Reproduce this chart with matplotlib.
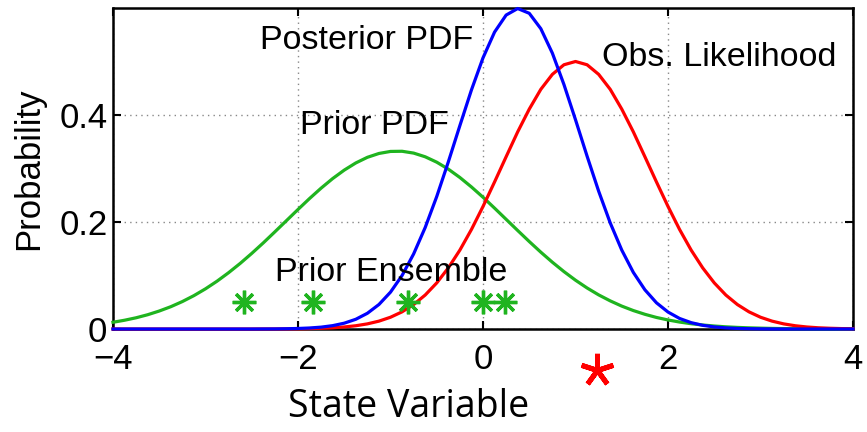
import matplotlib
matplotlib.use('Agg')
import matplotlib.pyplot as plt

x_grid = [-4, -3.875, -3.75, -3.625, -3.5, -3.375, -3.25, -3.125, -3, -2.875, -2.75,
          -2.625, -2.5, -2.375, -2.25, -2.125, -2, -1.875, -1.75, -1.625, -1.5,
          -1.375, -1.25, -1.125, -1, -0.875, -0.75, -0.625, -0.5, -0.375, -0.25,
          -0.125, 0, 0.125, 0.25, 0.375, 0.5, 0.625, 0.75, 0.875, 1, 1.125, 1.25,
          1.375, 1.5, 1.625, 1.75, 1.875, 2, 2.125, 2.25, 2.375, 2.5, 2.625, 2.75,
          2.875, 3, 3.125, 3.25, 3.375, 3.5, 3.625, 3.75, 3.875, 4]
prior_pdf = [0.0126, 0.0164, 0.0210, 0.0267, 0.0336, 0.0417, 0.0513, 0.0624, 0.0751,
             0.0894, 0.1053, 0.1226, 0.1413, 0.1610, 0.1816, 0.2025, 0.2234, 0.2439,
             0.2633, 0.2812, 0.2970, 0.3104, 0.3209, 0.3281, 0.3319, 0.3322, 0.3288,
             0.3219, 0.3118, 0.2988, 0.2832, 0.2655, 0.2463, 0.2259, 0.2050, 0.1841,
             0.1635, 0.1436, 0.1248, 0.1073, 0.0912, 0.0767, 0.0638, 0.0526, 0.0428,
             0.0345, 0.0275, 0.0216, 0.0169, 0.0130, 0.0099, 0.0075, 0.0056, 0.0041,
             0.0030, 0.0022, 0.0016, 0.0011, 0.0008, 0.0005, 0.0004, 0.0002, 0.0002,
             0.0001, 0.0001]
obs_lik = [0, 0, 0, 0, 0, 0, 0, 0, 0, 0, 0, 0, 0, 0.0001, 0.0001, 0.0002, 0.0004,
           0.0008, 0.0014, 0.0023, 0.0038, 0.0061, 0.0096, 0.0147, 0.0220, 0.0321,
           0.0457, 0.0635, 0.0862, 0.1142, 0.1475, 0.1860, 0.229, 0.2749, 0.322,
           0.3685, 0.411, 0.4480, 0.476, 0.4939, 0.5, 0.4939, 0.476, 0.4480, 0.411,
           0.3685, 0.322, 0.2749, 0.229, 0.1860, 0.1475, 0.1142, 0.0862, 0.0635,
           0.0457, 0.0321, 0.0220, 0.0147, 0.0096, 0.0061, 0.0038, 0.0023, 0.0014,
           0.0008, 0.0004]
post_pdf = [0, 0, 0, 0, 0, 0, 0, 0, 0, 0, 0, 0, 0, 0.0001, 0.0002, 0.0005, 0.001,
            0.0019, 0.0035, 0.0063, 0.0109, 0.0182, 0.0294, 0.0458, 0.0689, 0.1000,
            0.1403, 0.1897, 0.2477, 0.3123, 0.3802, 0.4468, 0.5068, 0.555, 0.5868,
            0.599, 0.5901, 0.5613, 0.5155, 0.4569, 0.3911, 0.3231, 0.2577, 0.1984,
            0.1475, 0.1058, 0.0733, 0.0490, 0.0317, 0.0197, 0.0119, 0.0069, 0.0039,
            0.0021, 0.0011, 0.0006, 0.0003, 0.0001, 0, 0, 0, 0, 0, 0, 0]

ens_x = [-2.58, -1.84, -0.81, 0.0, 0.24]
ens_y = [0.05, 0.05, 0.05, 0.05, 0.05]
obs_x = [1.23]
obs_y = [-0.076]

xticks = [-4, -2, 0, 2, 4]
yticks = [0, 0.2, 0.4]
ytick_labels = ['0', '0.2', '0.4']

plt.rcParams['font.family'] = ['Liberation Sans', 'DejaVu Sans']

fig = plt.figure(figsize=(8.67, 4.32), dpi=100)
ax = fig.add_axes([0.1303, 0.2384, 0.8536, 0.7431])

green = '#1fb41f'
ax.plot(x_grid, prior_pdf, color=green, lw=2.3, clip_on=False, zorder=3,
        solid_joinstyle='round')
ax.plot(x_grid, obs_lik, color='#ff0000', lw=2.3, clip_on=False, zorder=3,
        solid_joinstyle='round')
ax.plot(x_grid, post_pdf, color='#0000ff', lw=2.3, clip_on=False, zorder=3,
        solid_joinstyle='round')
ax.plot(ens_x, ens_y, linestyle='None', marker=(8, 2, 0), markersize=17,
        markeredgewidth=2.4, color=green, zorder=4)
ax.plot(obs_x, obs_y, linestyle='None', marker=(5, 2, 0), markersize=24,
        markeredgewidth=3.6, color='#ff0000', clip_on=False, zorder=4)

ax.set_xlim(-4, 4)
ax.set_ylim(0, 0.6)
ax.set_xticks(xticks)
ax.set_yticks(yticks)
ax.set_yticklabels(ytick_labels)
ax.tick_params(direction='in', length=6, width=1.5, labelsize=25,
               top=True, right=True)
ax.tick_params(axis='x', pad=10)
ax.tick_params(axis='y', pad=4)
ax.grid(True, linestyle=(0, (1, 3)), color='#888888', linewidth=1.0)
for sp in ax.spines.values():
    sp.set_linewidth(1.8)

ax.set_ylabel('Probability', fontsize=25)
ax.yaxis.set_label_coords(-0.092, 0.5)

fs = 24.5
ax.text(-1.26, 0.540, 'Posterior PDF', fontsize=fs, ha='center', va='center')
ax.text(-1.17, 0.381, 'Prior PDF', fontsize=fs, ha='center', va='center')
ax.text(2.55, 0.507, 'Obs. Likelihood', fontsize=fs, ha='center', va='center')
ax.text(-0.99, 0.1065, 'Prior Ensemble', fontsize=fs, ha='center', va='center')

fig.text(409 / 867, 15 / 432, 'State Variable', fontsize=27, family='Open Sans',
         ha='center', va='baseline')

fig.savefig('out.png', dpi=100)
